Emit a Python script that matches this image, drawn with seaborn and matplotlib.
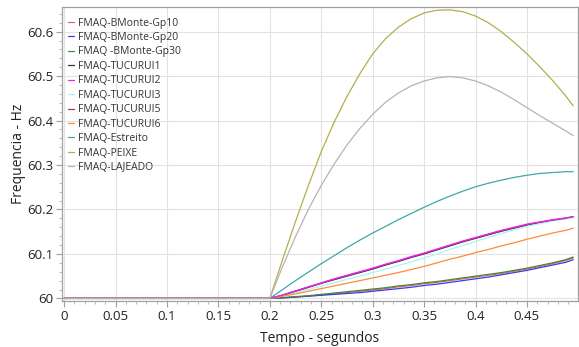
import numpy as np
import pandas as pd
import seaborn as sns
import matplotlib.pyplot as plt
from matplotlib.ticker import MultipleLocator, FuncFormatter

# tempo (s), shared by all machines
tempo = [0.0, 0.2, 0.2125, 0.225, 0.2375, 0.25, 0.2625, 0.275, 0.2875, 0.3,
         0.3125, 0.325, 0.3375, 0.35, 0.3625, 0.375, 0.3875, 0.4, 0.4125,
         0.425, 0.4375, 0.45, 0.4625, 0.475, 0.4875, 0.495]

bmonte_gp10 = [60.0, 60.0, 60.001, 60.003, 60.005, 60.008, 60.010, 60.013, 60.016,
               60.019, 60.022, 60.026, 60.029, 60.033, 60.036, 60.040, 60.044,
               60.048, 60.052, 60.056, 60.061, 60.066, 60.072, 60.078, 60.085, 60.091]
bmonte_gp20 = [60.0, 60.0, 60.001, 60.003, 60.005, 60.007, 60.009, 60.011, 60.013,
               60.016, 60.019, 60.022, 60.025, 60.029, 60.032, 60.036, 60.040,
               60.044, 60.048, 60.053, 60.058, 60.063, 60.069, 60.075, 60.081, 60.087]
bmonte_gp30 = [60.0, 60.0, 60.002, 60.004, 60.006, 60.009, 60.012, 60.015, 60.018,
               60.021, 60.024, 60.028, 60.031, 60.035, 60.038, 60.042, 60.046,
               60.050, 60.054, 60.058, 60.063, 60.068, 60.074, 60.080, 60.087, 60.093]
tucurui1 = [60.0, 60.0, 60.007, 60.016, 60.025, 60.034, 60.042, 60.050, 60.058,
            60.066, 60.075, 60.083, 60.092, 60.100, 60.109, 60.118, 60.127,
            60.135, 60.143, 60.151, 60.158, 60.165, 60.171, 60.176, 60.180, 60.183]
tucurui2 = [60.0, 60.0, 60.008, 60.017, 60.026, 60.035, 60.044, 60.052, 60.060,
            60.068, 60.077, 60.085, 60.094, 60.102, 60.111, 60.120, 60.129,
            60.137, 60.145, 60.153, 60.160, 60.167, 60.172, 60.177, 60.181, 60.184]
tucurui3 = [60.0, 60.0, 60.006, 60.013, 60.020, 60.028, 60.035, 60.043, 60.050,
            60.058, 60.066, 60.074, 60.082, 60.091, 60.100, 60.110, 60.119,
            60.128, 60.137, 60.146, 60.154, 60.162, 60.168, 60.174, 60.179, 60.182]
tucurui5 = [60.0, 60.0, 60.007, 60.016, 60.025, 60.034, 60.043, 60.051, 60.059,
            60.067, 60.076, 60.084, 60.093, 60.101, 60.110, 60.119, 60.128,
            60.136, 60.144, 60.152, 60.159, 60.166, 60.171, 60.176, 60.180, 60.184]
tucurui6 = [60.0, 60.0, 60.005, 60.010, 60.016, 60.022, 60.028, 60.034, 60.040,
            60.046, 60.052, 60.058, 60.065, 60.072, 60.080, 60.088, 60.095,
            60.103, 60.110, 60.118, 60.125, 60.133, 60.140, 60.147, 60.153, 60.158]
estreito = [60.0, 60.0, 60.020, 60.040, 60.059, 60.078, 60.096, 60.114, 60.131,
            60.147, 60.162, 60.177, 60.191, 60.205, 60.218, 60.230, 60.241,
            60.251, 60.259, 60.266, 60.272, 60.277, 60.281, 60.283, 60.285, 60.285]
peixe = [60.0, 60.0, 60.088, 60.173, 60.254, 60.330, 60.396, 60.454, 60.505,
         60.550, 60.584, 60.610, 60.629, 60.642, 60.648, 60.649, 60.645,
         60.635, 60.620, 60.600, 60.576, 60.550, 60.521, 60.490, 60.456, 60.433]
lajeado = [60.0, 60.0, 60.072, 60.139, 60.200, 60.254, 60.302, 60.345, 60.382,
           60.414, 60.441, 60.462, 60.478, 60.489, 60.496, 60.499, 60.496,
           60.489, 60.478, 60.464, 60.447, 60.429, 60.411, 60.394, 60.377, 60.366]

nomes = ['FMAQ-BMonte-Gp10', 'FMAQ-BMonte-Gp20', 'FMAQ -BMonte-Gp30',
         'FMAQ-TUCURUI1', 'FMAQ-TUCURUI2', 'FMAQ-TUCURUI3', 'FMAQ-TUCURUI5',
         'FMAQ-TUCURUI6', 'FMAQ-Estreito', 'FMAQ-PEIXE', 'FMAQ-LAJEADO']
series = [bmonte_gp10, bmonte_gp20, bmonte_gp30, tucurui1, tucurui2, tucurui3,
          tucurui5, tucurui6, estreito, peixe, lajeado]
cores = ['#e8605a', '#3a3af0', '#3d8a3d', '#333333', '#f020f0', '#a8f4f4',
         '#9a3a6a', '#ff8a3a', '#3fa8a8', '#b4ae4a', '#b4b4b4']

df = pd.concat([pd.DataFrame({'Tempo': tempo, 'Freq': s, 'Maquina': n})
                for n, s in zip(nomes, series)], ignore_index=True)

sns.set_style('white')
plt.rcParams['font.family'] = ['Open Sans', 'DejaVu Sans']

fig = plt.figure(figsize=(5.79, 3.47), dpi=100)
ax = fig.add_axes([0.107, 0.132, 0.891, 0.848])

sns.lineplot(data=df, x='Tempo', y='Freq', hue='Maquina', hue_order=nomes,
             palette=dict(zip(nomes, cores)), linewidth=0.9, ax=ax,
             estimator=None, sort=False)

# magenta TUCURUI2 over its group, gray LAJEADO on the flat 60 Hz stretch
ax.lines[nomes.index('FMAQ-TUCURUI2')].set_zorder(2.5)
ax.lines[nomes.index('FMAQ-LAJEADO')].set_zorder(3)

ax.set_xlim(-0.0021, 0.4995)
ax.set_ylim(59.9937, 60.6555)
ax.xaxis.set_major_locator(MultipleLocator(0.05))
ax.xaxis.set_minor_locator(MultipleLocator(0.01))
ax.yaxis.set_major_locator(MultipleLocator(0.1))
ax.yaxis.set_minor_locator(MultipleLocator(0.02))
fmt = FuncFormatter(lambda v, p: f'{v:.2f}'.rstrip('0').rstrip('.'))
ax.xaxis.set_major_formatter(fmt)
ax.yaxis.set_major_formatter(fmt)

ax.grid(True, which='major', color='#e2e2e2', linewidth=0.8)
for s in ax.spines.values():
    s.set_color('#a0a0a0')
    s.set_linewidth(0.9)
ax.tick_params(which='major', direction='out', length=4, color='#a0a0a0',
               labelsize=9.5, labelcolor='#222222', pad=2)
ax.tick_params(which='minor', direction='out', length=2, color='#b0b0b0')
ax.tick_params(axis='both', which='both', bottom=True, left=True)

ax.set_xlabel('Tempo - segundos', fontsize=10, color='#222222', labelpad=6)
ax.set_ylabel('Frequencia - Hz', fontsize=10, color='#222222', labelpad=1)

ax.legend(loc='upper left', bbox_to_anchor=(0.0, 0.985), frameon=False,
          fontsize=7.5, handlelength=0.6, handletextpad=0.3, labelspacing=0.33,
          borderaxespad=0.2, labelcolor='#333333')

fig.savefig('out.png', dpi=100)
